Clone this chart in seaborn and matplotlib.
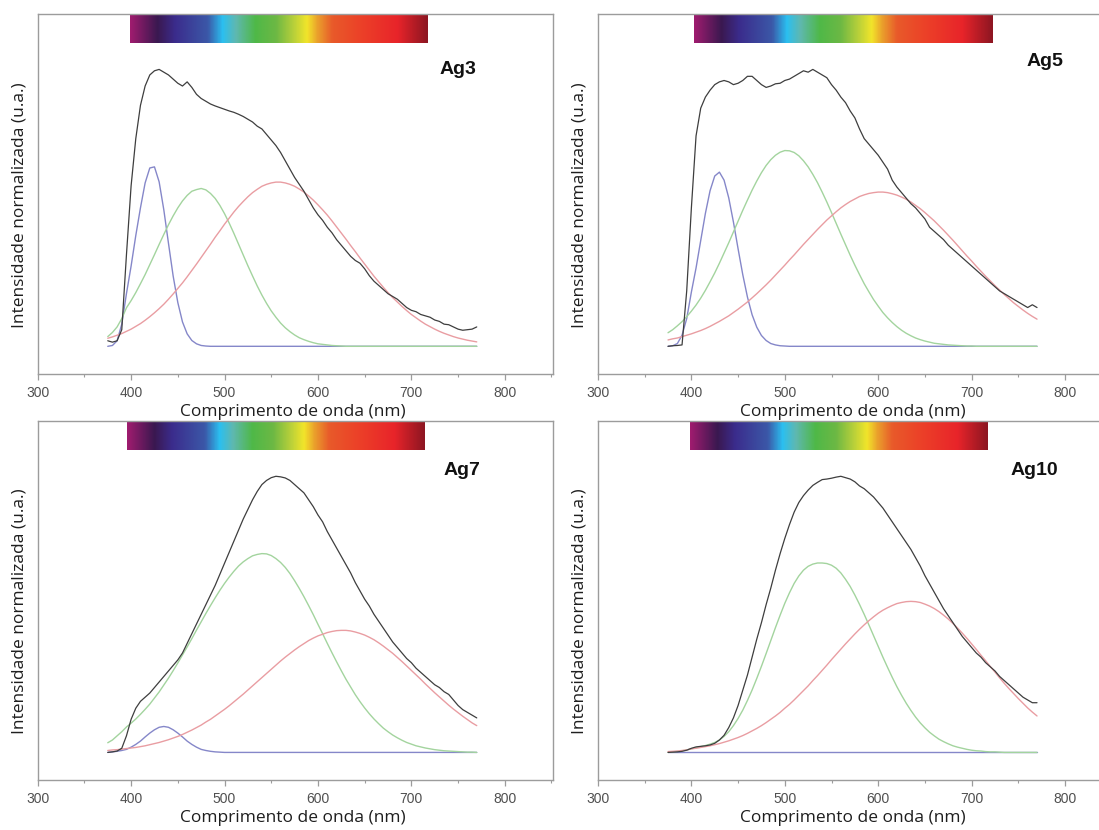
import numpy as np
import pandas as pd
import matplotlib
matplotlib.use("Agg")
import matplotlib.pyplot as plt
from matplotlib.colors import LinearSegmentedColormap
import seaborn as sns

# ---------------- data ----------------
WAVELENGTH = np.arange(375, 771, 5)  # nm, sampling grid of all curves

AG3_TOTAL = [0.02, 0.015, 0.02, 0.06, 0.33, 0.58, 0.75, 0.87, 0.94, 0.98,
             0.995, 1.0, 0.99, 0.98, 0.965, 0.95, 0.94, 0.955, 0.935, 0.91,
             0.895, 0.885, 0.875, 0.868, 0.862, 0.856, 0.85, 0.845, 0.838, 0.83,
             0.82, 0.81, 0.795, 0.785, 0.765, 0.745, 0.725, 0.70, 0.67, 0.64,
             0.61, 0.585, 0.56, 0.53, 0.50, 0.475, 0.455, 0.43, 0.41, 0.385,
             0.365, 0.345, 0.325, 0.31, 0.30, 0.28, 0.255, 0.235, 0.22, 0.205,
             0.19, 0.18, 0.17, 0.155, 0.14, 0.13, 0.125, 0.115, 0.11, 0.105,
             0.095, 0.09, 0.08, 0.078, 0.07, 0.062, 0.058, 0.06, 0.062, 0.07]
AG3_BLUE = [0.0, 0.003, 0.02, 0.08, 0.19, 0.29, 0.40, 0.50, 0.59, 0.644,
            0.648, 0.594, 0.493, 0.372, 0.254, 0.158, 0.088, 0.045, 0.021, 0.009,
            0.003, 0.001, 0, 0, 0, 0, 0, 0, 0, 0,
            0, 0, 0, 0, 0, 0, 0, 0, 0, 0,
            0, 0, 0, 0, 0, 0, 0, 0, 0, 0,
            0, 0, 0, 0, 0, 0, 0, 0, 0, 0,
            0, 0, 0, 0, 0, 0, 0, 0, 0, 0,
            0, 0, 0, 0, 0, 0, 0, 0, 0, 0]
AG3_GREEN = [0.035, 0.05, 0.07, 0.10, 0.139, 0.165, 0.194, 0.226, 0.259, 0.295,
             0.331, 0.368, 0.404, 0.439, 0.471, 0.500, 0.525, 0.545, 0.560, 0.566,
             0.57, 0.565, 0.552, 0.534, 0.509, 0.479, 0.445, 0.408, 0.369, 0.330,
             0.291, 0.254, 0.218, 0.185, 0.155, 0.128, 0.105, 0.084, 0.067, 0.053,
             0.041, 0.031, 0.024, 0.018, 0.013, 0.009, 0.007, 0.005, 0.003, 0.002,
             0.001, 0, 0, 0, 0, 0, 0, 0, 0, 0,
             0, 0, 0, 0, 0, 0, 0, 0, 0, 0,
             0, 0, 0, 0, 0, 0, 0, 0, 0, 0]
AG3_RED = [0.029, 0.034, 0.040, 0.046, 0.054, 0.062, 0.072, 0.082, 0.094, 0.107,
           0.121, 0.136, 0.152, 0.170, 0.189, 0.209, 0.229, 0.251, 0.274, 0.297,
           0.321, 0.345, 0.369, 0.394, 0.417, 0.441, 0.463, 0.485, 0.505, 0.523,
           0.540, 0.555, 0.567, 0.578, 0.585, 0.590, 0.593, 0.593, 0.590, 0.585,
           0.578, 0.568, 0.557, 0.543, 0.528, 0.511, 0.493, 0.474, 0.453, 0.431,
           0.409, 0.387, 0.364, 0.342, 0.319, 0.297, 0.275, 0.253, 0.233, 0.213,
           0.194, 0.176, 0.160, 0.144, 0.129, 0.115, 0.103, 0.091, 0.080, 0.071,
           0.062, 0.054, 0.047, 0.041, 0.035, 0.030, 0.026, 0.022, 0.019, 0.016]

AG5_TOTAL = [0.0, 0.002, 0.003, 0.005, 0.20, 0.50, 0.76, 0.86, 0.90, 0.925,
             0.945, 0.955, 0.96, 0.955, 0.945, 0.95, 0.96, 0.975, 0.975, 0.96,
             0.945, 0.935, 0.94, 0.948, 0.95, 0.96, 0.965, 0.975, 0.985, 0.995,
             0.99, 1.0, 0.99, 0.98, 0.97, 0.945, 0.925, 0.90, 0.88, 0.85,
             0.825, 0.785, 0.75, 0.73, 0.71, 0.69, 0.665, 0.64, 0.60, 0.575,
             0.555, 0.535, 0.515, 0.50, 0.48, 0.46, 0.43, 0.415, 0.40, 0.385,
             0.365, 0.35, 0.335, 0.32, 0.305, 0.29, 0.275, 0.26, 0.245, 0.23,
             0.215, 0.20, 0.19, 0.18, 0.17, 0.16, 0.15, 0.14, 0.15, 0.14]
AG5_BLUE = [0.0, 0.002, 0.01, 0.04, 0.10, 0.196, 0.283, 0.382, 0.480, 0.562,
            0.615, 0.629, 0.600, 0.536, 0.449, 0.352, 0.259, 0.178, 0.114, 0.069,
            0.039, 0.021, 0.010, 0.005, 0.002, 0.001, 0, 0, 0, 0,
            0, 0, 0, 0, 0, 0, 0, 0, 0, 0,
            0, 0, 0, 0, 0, 0, 0, 0, 0, 0,
            0, 0, 0, 0, 0, 0, 0, 0, 0, 0,
            0, 0, 0, 0, 0, 0, 0, 0, 0, 0,
            0, 0, 0, 0, 0, 0, 0, 0, 0, 0]
AG5_GREEN = [0.049, 0.060, 0.074, 0.089, 0.107, 0.127, 0.149, 0.174, 0.202, 0.233,
             0.265, 0.300, 0.337, 0.374, 0.413, 0.452, 0.491, 0.528, 0.564, 0.597,
             0.627, 0.653, 0.674, 0.690, 0.701, 0.707, 0.706, 0.700, 0.688, 0.670,
             0.648, 0.621, 0.591, 0.557, 0.521, 0.483, 0.444, 0.405, 0.367, 0.329,
             0.293, 0.259, 0.226, 0.197, 0.169, 0.145, 0.122, 0.103, 0.086, 0.071,
             0.058, 0.047, 0.038, 0.030, 0.024, 0.019, 0.015, 0.011, 0.009, 0.007,
             0.005, 0.004, 0.003, 0.002, 0.001, 0.001, 0, 0, 0, 0,
             0, 0, 0, 0, 0, 0, 0, 0, 0, 0]
AG5_RED = [0.023, 0.027, 0.030, 0.035, 0.040, 0.045, 0.051, 0.057, 0.064, 0.072,
           0.081, 0.090, 0.100, 0.110, 0.122, 0.134, 0.147, 0.160, 0.175, 0.190,
           0.206, 0.222, 0.239, 0.257, 0.275, 0.293, 0.312, 0.330, 0.349, 0.368,
           0.386, 0.404, 0.422, 0.439, 0.456, 0.471, 0.486, 0.500, 0.512, 0.523,
           0.532, 0.541, 0.547, 0.552, 0.555, 0.557, 0.557, 0.555, 0.551, 0.546,
           0.539, 0.531, 0.521, 0.509, 0.497, 0.483, 0.468, 0.453, 0.436, 0.419,
           0.401, 0.383, 0.364, 0.345, 0.326, 0.308, 0.289, 0.271, 0.253, 0.236,
           0.219, 0.203, 0.187, 0.172, 0.157, 0.144, 0.131, 0.119, 0.108, 0.098]

AG7_TOTAL = [0.0, 0.002, 0.005, 0.015, 0.06, 0.12, 0.16, 0.185, 0.20, 0.215,
             0.235, 0.255, 0.275, 0.295, 0.315, 0.335, 0.36, 0.395, 0.43, 0.465,
             0.50, 0.535, 0.57, 0.605, 0.645, 0.685, 0.725, 0.765, 0.805, 0.845,
             0.88, 0.915, 0.945, 0.97, 0.985, 0.995, 1.0, 0.998, 0.994, 0.985,
             0.97, 0.955, 0.94, 0.915, 0.89, 0.86, 0.835, 0.80, 0.77, 0.74,
             0.71, 0.68, 0.65, 0.615, 0.585, 0.555, 0.53, 0.50, 0.475, 0.45,
             0.425, 0.40, 0.38, 0.36, 0.34, 0.325, 0.305, 0.29, 0.275, 0.26,
             0.245, 0.235, 0.22, 0.21, 0.19, 0.17, 0.155, 0.145, 0.135, 0.125]
AG7_BLUE = [0.0, 0.002, 0.004, 0.007, 0.011, 0.019, 0.029, 0.041, 0.056, 0.070,
            0.082, 0.091, 0.094, 0.091, 0.082, 0.070, 0.056, 0.041, 0.029, 0.019,
            0.011, 0.007, 0.004, 0.002, 0.001, 0, 0, 0, 0, 0,
            0, 0, 0, 0, 0, 0, 0, 0, 0, 0,
            0, 0, 0, 0, 0, 0, 0, 0, 0, 0,
            0, 0, 0, 0, 0, 0, 0, 0, 0, 0,
            0, 0, 0, 0, 0, 0, 0, 0, 0, 0,
            0, 0, 0, 0, 0, 0, 0, 0, 0, 0]
AG7_GREEN = [0.035, 0.045, 0.06, 0.075, 0.092, 0.106, 0.121, 0.138, 0.156, 0.175,
             0.197, 0.219, 0.244, 0.269, 0.296, 0.324, 0.353, 0.382, 0.412, 0.443,
             0.473, 0.503, 0.532, 0.560, 0.587, 0.612, 0.635, 0.656, 0.675, 0.690,
             0.702, 0.712, 0.717, 0.720, 0.719, 0.713, 0.702, 0.688, 0.670, 0.648,
             0.622, 0.594, 0.564, 0.532, 0.499, 0.464, 0.430, 0.395, 0.361, 0.328,
             0.296, 0.265, 0.237, 0.209, 0.184, 0.161, 0.140, 0.121, 0.104, 0.088,
             0.075, 0.063, 0.053, 0.044, 0.036, 0.030, 0.024, 0.020, 0.016, 0.013,
             0.010, 0.008, 0.006, 0.005, 0.004, 0.003, 0.002, 0.001, 0.001, 0.0]
AG7_RED = [0.007, 0.009, 0.010, 0.012, 0.014, 0.016, 0.018, 0.021, 0.024, 0.028,
           0.032, 0.036, 0.041, 0.046, 0.052, 0.058, 0.065, 0.073, 0.081, 0.090,
           0.099, 0.110, 0.120, 0.132, 0.144, 0.156, 0.169, 0.183, 0.197, 0.211,
           0.226, 0.241, 0.256, 0.271, 0.286, 0.301, 0.316, 0.331, 0.345, 0.358,
           0.371, 0.383, 0.394, 0.405, 0.414, 0.422, 0.428, 0.434, 0.438, 0.441,
           0.442, 0.442, 0.440, 0.436, 0.431, 0.425, 0.417, 0.408, 0.397, 0.385,
           0.372, 0.359, 0.344, 0.329, 0.313, 0.297, 0.281, 0.265, 0.248, 0.232,
           0.216, 0.201, 0.186, 0.171, 0.157, 0.144, 0.131, 0.119, 0.107, 0.097]

AG10_TOTAL = [0.0, 0.001, 0.002, 0.004, 0.008, 0.015, 0.02, 0.022, 0.024, 0.027,
              0.033, 0.045, 0.062, 0.09, 0.125, 0.17, 0.225, 0.28, 0.345, 0.41,
              0.47, 0.535, 0.595, 0.66, 0.72, 0.775, 0.825, 0.87, 0.905, 0.93,
              0.95, 0.967, 0.978, 0.988, 0.99, 0.993, 0.997, 1.0, 0.995, 0.99,
              0.98, 0.965, 0.955, 0.94, 0.925, 0.905, 0.885, 0.86, 0.835, 0.81,
              0.785, 0.76, 0.735, 0.705, 0.675, 0.64, 0.61, 0.58, 0.55, 0.52,
              0.495, 0.47, 0.445, 0.42, 0.40, 0.38, 0.36, 0.345, 0.325, 0.31,
              0.295, 0.275, 0.26, 0.245, 0.23, 0.215, 0.20, 0.19, 0.18, 0.18]
AG10_BLUE = [0.0] * 80
AG10_GREEN = [0.0, 0.002, 0.004, 0.006, 0.009, 0.013, 0.017, 0.021, 0.025, 0.03,
              0.036, 0.045, 0.058, 0.075, 0.097, 0.123, 0.153, 0.188, 0.226, 0.268,
              0.312, 0.358, 0.405, 0.452, 0.497, 0.54, 0.578, 0.612, 0.639, 0.66,
              0.674, 0.682, 0.686, 0.686, 0.684, 0.678, 0.667, 0.650, 0.627, 0.601,
              0.570, 0.536, 0.500, 0.462, 0.423, 0.384, 0.345, 0.308, 0.272, 0.238,
              0.207, 0.178, 0.152, 0.128, 0.107, 0.089, 0.073, 0.060, 0.048, 0.039,
              0.031, 0.024, 0.019, 0.015, 0.011, 0.008, 0.006, 0.005, 0.003, 0.002,
              0.002, 0.001, 0, 0, 0, 0, 0, 0, 0, 0]
AG10_RED = [0.003, 0.004, 0.005, 0.007, 0.009, 0.013, 0.015, 0.018, 0.021, 0.024,
            0.028, 0.032, 0.037, 0.042, 0.048, 0.054, 0.061, 0.069, 0.078, 0.087,
            0.097, 0.108, 0.120, 0.132, 0.145, 0.160, 0.174, 0.190, 0.207, 0.224,
            0.241, 0.260, 0.278, 0.297, 0.316, 0.336, 0.355, 0.374, 0.393, 0.411,
            0.429, 0.446, 0.462, 0.477, 0.491, 0.504, 0.515, 0.524, 0.532, 0.539,
            0.543, 0.546, 0.547, 0.546, 0.543, 0.537, 0.530, 0.521, 0.510, 0.497,
            0.483, 0.467, 0.450, 0.432, 0.413, 0.393, 0.373, 0.352, 0.332, 0.311,
            0.291, 0.270, 0.250, 0.231, 0.213, 0.195, 0.178, 0.161, 0.146, 0.132]

SAMPLE_NAMES = ["Ag3", "Ag5", "Ag7", "Ag10"]
X_MAJOR_TICKS = [300, 400, 500, 600, 700, 800]
X_MINOR_TICKS = [350, 450, 550, 650, 750, 850]
X_LABEL = "Comprimento de onda (nm)"
Y_LABEL = "Intensidade normalizada (u.a.)"
# visible-spectrum strip drawn in each panel (start nm, end nm)
SPECTRUM_BAR = {"Ag3": (399, 718), "Ag5": (403, 723), "Ag7": (396, 714), "Ag10": (398, 717)}
# sample-name label position (nm, normalised intensity)
NAME_POS = {"Ag3": (750, 1.0), "Ag5": (779, 1.03), "Ag7": (754, 1.02), "Ag10": (767, 1.02)}

# ---------------- style ----------------
sns.set_theme(style="white")
plt.rcParams["font.family"] = ["Liberation Sans", "DejaVu Sans"]

COMPONENT_COLORS = {"azul": "#8587c9", "verde": "#a3d49e", "vermelho": "#e99da2"}
TOTAL_COLOR = "#3e3e3e"
FRAME_COLOR = "#9c9c9c"

SPECTRUM_CMAP = LinearSegmentedColormap.from_list("spectrum", [
    (0.00, "#9e1c6e"), (0.09, "#3a1850"), (0.15, "#3b2c8c"), (0.26, "#3b58a8"),
    (0.31, "#2bbff0"), (0.355, "#5fb8b0"), (0.42, "#4fb848"), (0.49, "#6cb844"),
    (0.55, "#b8d03a"), (0.595, "#f2e52a"), (0.63, "#eaa02c"), (0.68, "#e85a2a"),
    (0.78, "#ec4028"), (0.90, "#e8242a"), (1.00, "#8e1622")])

AXES_BOX = {
    "Ag3": [0.0343, 0.5494, 0.4692, 0.4337],
    "Ag5": [0.5441, 0.5494, 0.4692, 0.4337],
    "Ag7": [0.0343, 0.0602, 0.4692, 0.4325],
    "Ag10": [0.5441, 0.0602, 0.4692, 0.4325],
}

PANEL_DATA = {
    "Ag3": (AG3_TOTAL, AG3_BLUE, AG3_GREEN, AG3_RED),
    "Ag5": (AG5_TOTAL, AG5_BLUE, AG5_GREEN, AG5_RED),
    "Ag7": (AG7_TOTAL, AG7_BLUE, AG7_GREEN, AG7_RED),
    "Ag10": (AG10_TOTAL, AG10_BLUE, AG10_GREEN, AG10_RED),
}

fig = plt.figure(figsize=(10.99, 8.30), dpi=100)
fig.patch.set_facecolor("white")

for name in SAMPLE_NAMES:
    total, blue, green, red = PANEL_DATA[name]
    ax = fig.add_axes(AXES_BOX[name])
    ax.set_facecolor("white")

    n = len(WAVELENGTH)
    comp = pd.DataFrame({
        "wavelength": np.concatenate([WAVELENGTH] * 3),
        "intensity": np.concatenate([np.asarray(blue, float), np.asarray(green, float),
                                     np.asarray(red, float)]),
        "component": ["azul"] * n + ["verde"] * n + ["vermelho"] * n,
    })
    tot = pd.DataFrame({"wavelength": WAVELENGTH, "intensity": np.asarray(total, float)})

    sns.lineplot(data=comp, x="wavelength", y="intensity", hue="component",
                 palette=COMPONENT_COLORS, hue_order=["azul", "verde", "vermelho"],
                 estimator=None, sort=False, legend=False, linewidth=1.0, ax=ax)
    sns.lineplot(data=tot, x="wavelength", y="intensity", color=TOTAL_COLOR,
                 estimator=None, sort=False, linewidth=0.9, ax=ax)

    # visible spectrum strip
    x0, x1 = SPECTRUM_BAR[name]
    grad = np.linspace(0, 1, 600).reshape(1, -1)
    ax.imshow(grad, cmap=SPECTRUM_CMAP, extent=[x0, x1, 1.097, 1.195],
              aspect="auto", interpolation="bilinear", zorder=1)

    ax.text(*NAME_POS[name], name, ha="center", va="center", fontsize=14,
            fontweight="bold", color="#111111", family=["Liberation Sans", "DejaVu Sans"])

    ax.set_xlim(300, 852)
    ax.set_ylim(-0.1, 1.2)
    ax.set_xticks(X_MAJOR_TICKS)
    ax.set_xticklabels([str(t) for t in X_MAJOR_TICKS])
    ax.set_xticks(X_MINOR_TICKS, minor=True)
    ax.set_yticks([])
    ax.tick_params(axis="x", which="major", direction="out", length=4, width=0.9,
                   color=FRAME_COLOR, labelsize=10, labelcolor="#505050", pad=4.5,
                   bottom=True)
    ax.tick_params(axis="x", which="minor", direction="out", length=2.5, width=0.8,
                   color=FRAME_COLOR, bottom=True)
    for sp in ax.spines.values():
        sp.set_visible(True)
        sp.set_color(FRAME_COLOR)
        sp.set_linewidth(1.0)

    ax.set_xlabel(X_LABEL, fontsize=12.5, family=["Open Sans", "DejaVu Sans"], color="#1e1e1e")
    ax.set_ylabel(Y_LABEL, fontsize=12.5, family=["Open Sans", "DejaVu Sans"], color="#1e1e1e")
    ax.xaxis.set_label_coords(0.495, -0.083)
    ax.yaxis.set_label_coords(-0.02, 0.47)

fig.savefig("out.png", dpi=100, facecolor="white")
